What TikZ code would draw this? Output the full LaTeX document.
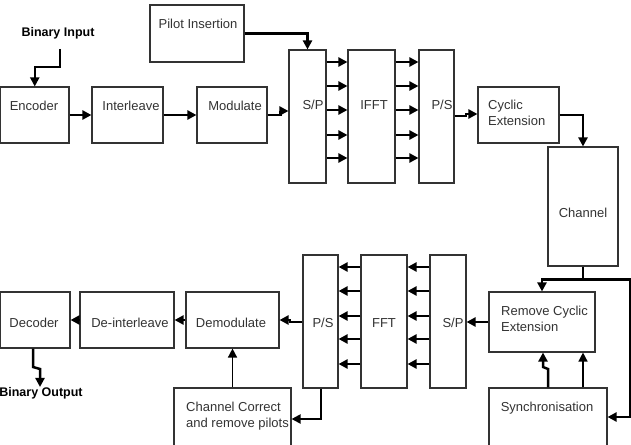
\documentclass[tikz,border=0pt]{standalone}
\usepackage{fontspec}
\setmainfont{Liberation Sans}
\usetikzlibrary{arrows.meta}
\tikzset{
  blk/.style 2 args={draw=black!80, line width=1.1pt, inner sep=0pt, minimum width=#1pt, minimum height=#2pt},
  lab/.style={font=\fontsize{13}{16}\selectfont, text=black!80, inner sep=0pt},
  blab/.style={font=\fontsize{12.5}{16}\selectfont\bfseries, text=black, inner sep=0pt},
  arr/.style={line width=2.5pt, -{Triangle[length=9pt,width=9pt]}},
  marr/.style={line width=2pt, -{Triangle[length=9pt,width=9pt]}},
  tarr/.style={line width=1.4pt, -{Triangle[length=9pt,width=9pt]}},
  ln/.style={line width=2.5pt},
}
\begin{document}
\begin{tikzpicture}[x=1pt,y=-1pt]
\clip (0,0) rectangle (631,444);
\fill[white] (0,0) rectangle (631,444);
% ---------- top row boxes
\node[blk={68.5}{56}] (enc) at (34.75,115) {};
\node[blk={71}{56}] (intl) at (127.5,115) {};
\node[blk={70}{56}] (mod) at (232,115) {};
\node[blk={94}{57}] (pilot) at (197,33.5) {};
\node[blk={37}{133}] (sp1) at (307.5,116.5) {};
\node[blk={47}{133}] (ifft) at (371.5,116.5) {};
\node[blk={35}{133}] (ps1) at (436.5,116.5) {};
\node[blk={81}{56}] (cyc) at (518.5,115) {};
\node[blk={70}{119}] (chan) at (583,206.5) {};
% ---------- bottom row boxes
\node[blk={69.5}{56}] (dec) at (35.25,320) {};
\node[blk={94}{56}] (deint) at (127,320) {};
\node[blk={93}{56}] (demod) at (232.5,320) {};
\node[blk={35}{133}] (ps2) at (320.5,321.5) {};
\node[blk={46}{133}] (fft) at (384,321.5) {};
\node[blk={36}{133}] (sp2) at (448,321.5) {};
\node[blk={106}{60}] (rce) at (542,322) {};
\node[blk={117}{72}] (cc) at (232.5,424) {};
\node[blk={118}{72}] (sync) at (548,424) {};
% ---------- texts
\node[blab] (binT) at (58,33) {Binary Input};
\node[blab] (boT) at (41,393) {Binary Output};
\node[lab] (encT) at (34,106) {Encoder};
\node[lab] (intlT) at (131,106) {Interleave};
\node[lab] (modT) at (235,106) {Modulate};
\node[lab] (pilotT) at (198,24) {Pilot Insertion};
\node[lab] (sp1T) at (313,105) {S/P};
\node[lab] (ifftT) at (374,105) {IFFT};
\node[lab] (ps1T) at (442,105) {P/S};
\node[lab, align=left, anchor=west] (cycT) at (488,113) {Cyclic\\Extension};
\node[lab] (chanT) at (583,213) {Channel};
\node[lab] (decT) at (34,323) {Decoder};
\node[lab] (deintT) at (130,323) {De-interleave};
\node[lab] (demodT) at (231,323) {Demodulate};
\node[lab] (ps2T) at (323,323) {P/S};
\node[lab] (fftT) at (384,323) {FFT};
\node[lab] (sp2T) at (453,323) {S/P};
\node[lab, align=left, anchor=west] (rceT) at (501,319) {Remove Cyclic\\Extension};
\node[lab, align=left, anchor=west] (ccT) at (186,416) {Channel Correct\\and remove pilots};
\node[lab] (syncT) at (547,408) {Synchronisation};
% ---------- transmitter connectors
\draw[marr] (60,49) coordinate (bi) |- ([yshift=19pt]enc.north) -- (enc.north);
\draw[arr] (enc.east) -- (intl.west);
\draw[arr] (intl.east) -- (mod.west);
\draw[arr] (mod.east) -- ++(13,0) |- (sp1.west |- 0,111);
\draw[arr] (pilot.east) -| (sp1.north);
\foreach \yy in {62,86,110,135,158}{
  \draw[arr] (sp1.east |- 0,\yy) -- (ifft.west |- 0,\yy);
  \draw[arr] (ifft.east |- 0,\yy) -- (ps1.west |- 0,\yy);
}
\draw[arr] (ps1.east |- 0,116) -- (466,116) -- (466,114) -- (cyc.west |- 0,114);
\draw[arr] (cyc.east) -| (chan.north);
% ---------- receiver connectors
\draw[ln] (chan.south) -- ++(0,13) coordinate (j1);
\draw[arr] (j1) -| (rce.north);
\draw[arr] (j1) -| (630,417) -- (sync.east |- 0,417);
\draw[arr] (rce.west) -- (sp2.east |- rce.west);
\foreach \yy in {267,291,316,339,364}{
  \draw[arr] (sp2.west |- 0,\yy) -- (fft.east |- 0,\yy);
  \draw[arr] (fft.west |- 0,\yy) -- (ps2.east |- 0,\yy);
}
\draw[arr] (ps2.west |- 0,322) -- (290,322) -- (290,320) -- (demod.east);
\draw[arr] (demod.west) -- (deint.east);
\draw[arr] (deint.west) -- (dec.east);
\draw[arr] (dec.south -| 33,0) -- (33,367) -- (40,369) -- (boT.north -| 40,0);
\draw[tarr] (cc.north) -- (demod.south);
\draw[marr] (ps2.south) |- (cc.east |- 0,419);
\draw[arr] (sync.north -| 548,0) -- (548,369) -- (543,367) -- (rce.south -| 543,0);
\draw[tarr] (sync.north -| 583,0) -- (rce.south -| 583,0);
\end{tikzpicture}
\end{document}
